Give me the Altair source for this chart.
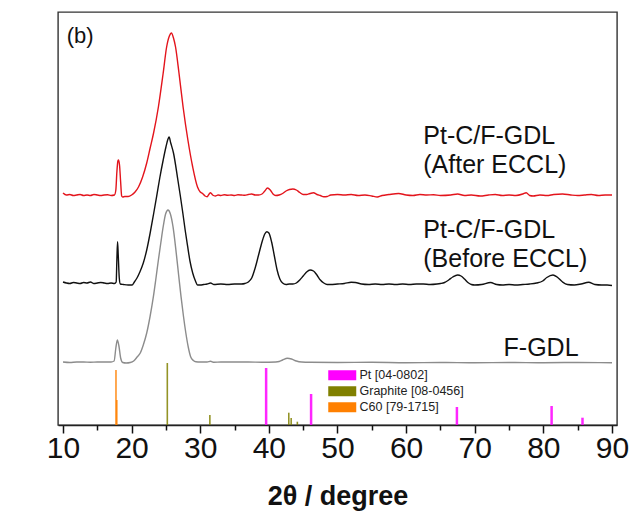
import altair as alt
import pandas as pd

FONT = "Liberation Sans, Arial, Helvetica, sans-serif"

# ---- XRD patterns (2-theta in degrees, intensity in arbitrary stacked units) ----
after_tt = [10.0, 10.5, 11.0, 11.5, 12.0, 12.5, 13.0, 13.5, 14.0, 14.5, 15.0, 15.5, 16.0, 16.5, 17.0, 17.5,
            17.7, 17.85, 18.0, 18.1, 18.25, 18.4, 18.55, 18.7, 19.0, 19.5, 20.0, 20.5, 21.0, 21.6, 22.2, 22.7,
            23.2, 23.9, 24.6, 25.1, 25.5, 25.8, 26.1, 26.4, 26.9, 27.5, 28.2, 28.9, 29.6, 30.0, 30.3, 30.7,
            31.0, 31.3, 31.5, 31.8, 32.2, 32.6, 33.0, 33.5, 34.0, 34.5, 35.0, 35.5, 36.0, 36.5, 37.0, 37.5,
            38.0, 38.5, 39.0, 39.4, 39.8, 40.2, 40.6, 41.0, 41.5, 42.0, 42.5, 43.0, 43.5, 44.0, 44.5, 45.0,
            45.5, 46.0, 46.5, 47.0, 47.5, 48.0, 48.5, 49.0, 50.0, 51.0, 52.0, 53.0, 54.0, 55.0, 55.8, 56.5,
            57.5, 58.9, 60.0, 61.0, 62.0, 63.0, 64.0, 65.0, 66.5, 67.5, 68.5, 69.5, 70.8, 72.0, 73.0, 74.0,
            75.0, 76.0, 77.0, 77.5, 78.0, 78.5, 79.5, 80.5, 81.5, 82.8, 84.0, 85.0, 86.0, 87.0, 88.0, 89.0, 90.0]
after_int = [232, 230, 230.5, 229.5, 230, 230.5, 229.5, 230, 229.5, 230.5, 230, 229.5, 230, 230.2, 229.5, 230,
             235, 253, 264, 265, 259, 243, 229, 228, 228.5, 228.5, 230, 233, 238, 248, 262, 277,
             292, 318, 352, 378, 389, 392, 387, 378, 352, 318, 285, 258, 238, 233, 231.7, 229,
             228.3, 231, 232.3, 230, 229, 230, 229.5, 230.2, 229.7, 230, 229.5, 230.2, 230, 229.7, 230.5, 231,
             230, 230, 231, 234, 237, 235, 231, 229.5, 230, 231.5, 234, 235.5, 236, 235, 232.5, 230.5,
             230.5, 231.5, 232.3, 230.5, 229.5, 228.3, 228.5, 230, 230.5, 230, 230.5, 229.5, 230, 229, 228, 229.5,
             230.5, 231.5, 230, 229.5, 230.5, 230, 230.2, 229.5, 230, 231, 229.5, 230, 229, 230, 230.5, 229.5,
             230, 229.5, 231, 232.3, 229.5, 229, 230, 229.5, 230.5, 231, 230, 229.5, 230, 230.5, 229.5, 230, 230]

before_tt = [10.0, 10.5, 11.0, 11.5, 12.0, 12.5, 13.0, 13.5, 14.0, 14.5, 15.0, 15.5, 16.0, 16.5, 17.0, 17.5,
             17.75, 17.85, 17.95, 18.05, 18.2, 18.35, 18.8, 19.5, 20.06, 20.4, 20.78, 21.2, 21.7, 22.2, 22.7,
             23.2, 23.64, 24.1, 24.6, 25.0, 25.3, 25.46, 25.7, 26.1, 26.74, 27.1, 27.46, 27.8, 28.17, 28.5,
             28.9, 29.3, 29.6, 30.0, 30.5, 31.0, 31.5, 32.0, 33.0, 34.0, 35.0, 36.0, 36.5, 37.0, 37.5, 38.0,
             38.5, 39.0, 39.4, 39.7, 40.0, 40.4, 40.8, 41.2, 41.6, 42.0, 42.5, 43.0, 43.5, 44.0, 44.5, 45.0,
             45.5, 46.0, 46.5, 47.0, 47.5, 48.0, 48.5, 49.0, 50.0, 51.0, 52.0, 52.6, 53.5, 54.5, 55.5, 56.5,
             57.5, 58.5, 59.5, 60.5, 61.5, 62.5, 63.5, 64.5, 65.0, 65.6, 66.2, 66.8, 67.5, 68.0, 68.5, 69.0,
             69.5, 70.0, 71.0, 72.3, 73.2, 74.0, 75.0, 76.0, 77.0, 78.0, 79.0, 79.9, 80.5, 81.4, 82.0, 82.8,
             83.5, 84.5, 85.5, 86.6, 87.5, 88.5, 89.3, 90.0]
before_int = [143, 142, 141.5, 142.5, 142, 141.5, 142.5, 142, 143, 141.5, 142, 142.5, 142, 141.5, 142, 141.5,
              143, 165, 183.3, 170, 147, 141, 140.5, 140, 140, 143, 147, 153, 162, 175, 192,
              211, 228.3, 247, 265, 278, 286, 288, 282, 272, 245, 229, 212, 195, 178.3, 164,
              152, 144, 140, 140, 140.5, 141, 142, 140.5, 141, 140.5, 141, 141, 141.5, 143, 147, 157,
              170, 183, 191, 193.3, 192, 183, 169, 155, 146, 142, 140.5, 141, 141, 142, 145, 149,
              153, 155, 154, 150, 145, 142, 140.5, 140.5, 141, 141.5, 142.7, 142.5, 141, 140.5, 141, 140.5,
              141, 140.5, 141, 140.5, 141, 141, 140.5, 141, 141.5, 142.5, 145, 148, 150, 149, 146, 142.5,
              140.5, 140, 140.5, 142.5, 140.5, 140, 140.5, 140, 140.5, 141, 142, 144, 147.5, 150, 148, 143,
              140.5, 140, 141, 142.7, 140.5, 140, 140, 139.5]

fgdl_tt = [10.0, 11.0, 12.0, 13.0, 14.0, 15.0, 16.0, 17.0, 17.45, 17.7, 17.92, 18.15, 18.4, 18.7, 19.2, 19.8,
           20.3, 20.8, 21.26, 21.7, 22.2, 22.7, 23.17, 23.55, 23.9, 24.25, 24.6, 24.95, 25.3, 25.65, 26.03,
           26.5, 26.85, 27.2, 27.55, 27.9, 28.25, 28.6, 29.0, 29.36, 30.0, 31.0, 31.5, 32.0, 33.0, 35.0,
           37.0, 39.0, 41.0, 41.5, 42.0, 42.7, 43.3, 44.0, 44.8, 46.0, 50.0, 55.0, 60.0, 65.0, 70.0, 75.0,
           80.0, 85.0, 90.0]
fgdl_int = [63, 62.5, 63, 63, 62.7, 63, 63, 63, 64, 77, 85, 79, 67, 62.5, 62, 62.5,
            64, 68, 72, 80, 92, 109, 128.3, 147, 165, 182, 198.3, 211, 215, 211, 198.3,
            172, 150, 128.3, 109, 92, 78, 68.3, 64.5, 63.3, 63, 63, 63.7, 62.7, 63, 63,
            63, 62.8, 63, 63.5, 65, 66.7, 66, 64, 63, 62.7, 62.5, 62.7, 62.3, 62.5, 62.3, 62.5,
            62.3, 62.5, 62.3]

samples = ["Pt-C/F-GDL (After ECCL)", "Pt-C/F-GDL (Before ECCL)", "F-GDL"]
sample_colors = ["#e3141c", "#111111", "#8c8c8c"]

curves = pd.concat([
    pd.DataFrame({"tt": after_tt, "I": after_int, "sample": samples[0]}),
    pd.DataFrame({"tt": before_tt, "I": before_int, "sample": samples[1]}),
    pd.DataFrame({"tt": fgdl_tt, "I": fgdl_int, "sample": samples[2]}),
])

# ---- reference stick patterns ----
phases = ["Pt [04-0802]", "Graphite [08-0456]", "C60 [79-1715]"]
phase_colors = ["#ff00ff", "#808000", "#ff8000"]
pt_tt = [39.6, 46.15, 67.4, 81.2, 85.7]
pt_int = [57, 31, 18, 19, 7.3]
graphite_tt = [25.2, 31.4, 42.9, 43.25, 44.15]
graphite_int = [62, 10, 12.3, 7, 3.3]
c60_tt = [17.72, 17.84]
c60_int = [55, 25]

sticks = pd.concat([
    pd.DataFrame({"tt": pt_tt, "I": pt_int, "phase": phases[0]}),
    pd.DataFrame({"tt": graphite_tt, "I": graphite_int, "phase": phases[1]}),
    pd.DataFrame({"tt": c60_tt, "I": c60_int, "phase": phases[2]}),
])

# ---- annotations ----
label_text = ["Pt-C/F-GDL", "(After ECCL)", "Pt-C/F-GDL", "(Before ECCL)", "F-GDL"]
label_tt = [62.5, 62.5, 62.5, 62.5, 74.2]
label_int = [281, 252, 187, 158, 69]
labels = pd.DataFrame({"text": label_text, "tt": label_tt, "I": label_int})
panel = pd.DataFrame({"text": ["(b)"], "tt": [10.55], "I": [382]})

x_scale = alt.Scale(domain=[10, 90], nice=False, zero=False)
y_scale = alt.Scale(domain=[0, 413], nice=False, zero=True)

# major ticks with labels every 10 degrees
major_axis = alt.Axis(values=list(range(10, 91, 10)), format="d", tickSize=8, tickWidth=1.5,
                      tickColor="#111", domainColor="#222", domainWidth=1.5, labelFontSize=30,
                      labelFont=FONT, labelColor="#111", labelPadding=0, labelFlush=False,
                      labelOverlap=False,
                      title="2θ / degree", titleFont=FONT, titleFontSize=27, titleFontWeight="bold",
                      titleColor="#111", titlePadding=20, grid=False, orient="bottom")
# unlabelled minor ticks in between
minor_axis = alt.Axis(values=list(range(15, 90, 10)), tickSize=5, tickWidth=1.5, tickColor="#111",
                      labels=False, domain=False, title=None, grid=False, orient="bottom")
y_axis = alt.Axis(ticks=False, labels=False, grid=False, domainColor="#222", domainWidth=1.5,
                  title="Intensity / a.u", titleFont=FONT, titleFontSize=28, titleFontWeight="bold",
                  titleColor="#111", titlePadding=19, titleY=245)

lines = alt.Chart(curves).mark_line(strokeWidth=1.4, interpolate="monotone").encode(
    x=alt.X("tt:Q", scale=x_scale, axis=major_axis),
    y=alt.Y("I:Q", scale=y_scale, axis=y_axis),
    stroke=alt.Stroke("sample:N", scale=alt.Scale(domain=samples, range=sample_colors), legend=None),
    detail="sample:N",
)

bars = alt.Chart(sticks).mark_bar(opacity=0.85).encode(
    x=alt.X("tt:Q", scale=x_scale, axis=minor_axis),
    y=alt.Y("I:Q", scale=y_scale, axis=None),
    y2=alt.datum(0),
    size=alt.condition(alt.datum.phase == phases[0], alt.value(2.5), alt.value(1.6)),
    color=alt.Color("phase:N", scale=alt.Scale(domain=phases, range=phase_colors),
                    legend=alt.Legend(title=None, orient="none", legendX=278, legendY=357,
                                      symbolType="M-2.8,-1H2.8V1H-2.8Z", symbolSize=100,
                                      symbolOpacity=1, symbolStrokeWidth=0,
                                      labelFont=FONT, labelFontSize=12.5, labelColor="#222",
                                      labelOffset=11, rowPadding=3, padding=0)),
)

texts = alt.Chart(labels).mark_text(align="left", baseline="alphabetic", font=FONT, fontSize=25,
                                    color="#111").encode(
    x=alt.X("tt:Q", scale=x_scale, axis=None),
    y=alt.Y("I:Q", scale=y_scale, axis=None),
    text="text:N")

panel_text = alt.Chart(panel).mark_text(align="left", baseline="alphabetic", font=FONT, fontSize=22,
                                        color="#111").encode(
    x=alt.X("tt:Q", scale=x_scale, axis=None),
    y=alt.Y("I:Q", scale=y_scale, axis=None),
    text="text:N")

chart = alt.layer(lines, bars, texts, panel_text).resolve_axis(x="independent").properties(
    width=559, height=413,
    autosize=alt.AutoSizeParams(type="none"),
    padding={"left": 58, "top": 12, "right": 21, "bottom": 87},
    background="white",
).configure_view(stroke="#333", strokeWidth=1.4)

chart.save("out.html", embed_options={"renderer": "svg", "actions": False})
